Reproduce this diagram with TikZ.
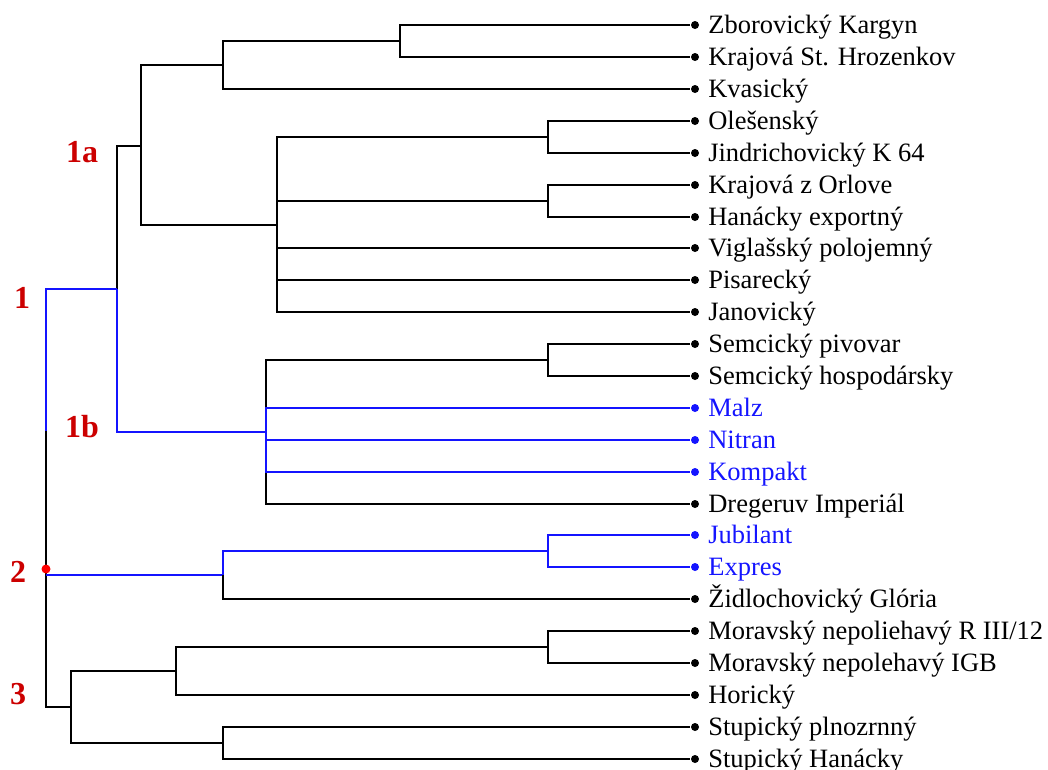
\documentclass[tikz,border=0pt]{standalone}
\usepackage{fontspec}
\setmainfont{Liberation Serif}
\definecolor{hiblue}{RGB}{20,20,255}
\definecolor{grpred}{RGB}{204,0,0}
\begin{document}
\begin{tikzpicture}[x=1pt,y=-1pt,line width=1.8pt,
    leaf/.style={circle,fill,inner sep=0pt,minimum size=8pt},
    cultivar/.style={inner sep=0pt,text height=17pt,text depth=0pt,label distance=7.5pt,font=\fontsize{26.5}{30}\selectfont},
    hi/.style={draw=hiblue},
    grp/.style={text=grpred,font=\bfseries\fontsize{32}{36}\selectfont}]
    \useasboundingbox (0,0) rectangle (1048,769);
    \node[leaf,label={[cultivar]right:Zborovický Kargyn}] (z1) at (695,25) {};
    \node[leaf,label={[cultivar]right:Krajová St. Hrozenkov}] (z2) at (695,57) {};
    \node[leaf,label={[cultivar]right:Kvasický}] (z3) at (695,89) {};
    \node[leaf,label={[cultivar]right:Olešenský}] (z4) at (695,121) {};
    \node[leaf,label={[cultivar]right:Jindrichovický K 64}] (z5) at (695,153) {};
    \node[leaf,label={[cultivar]right:Krajová z Orlove}] (z6) at (695,185) {};
    \node[leaf,label={[cultivar]right:Hanácky exportný}] (z7) at (695,217) {};
    \node[leaf,label={[cultivar]right:Viglašský polojemný}] (z8) at (695,248) {};
    \node[leaf,label={[cultivar]right:Pisarecký}] (z9) at (695,280) {};
    \node[leaf,label={[cultivar]right:Janovický}] (z10) at (695,312) {};
    \node[leaf,label={[cultivar]right:Semcický pivovar}] (z11) at (695,344) {};
    \node[leaf,label={[cultivar]right:Semcický hospodársky}] (z12) at (695,376) {};
    \node[leaf,hiblue,label={[cultivar,hiblue]right:Malz}] (z13) at (695,408) {};
    \node[leaf,hiblue,label={[cultivar,hiblue]right:Nitran}] (z14) at (695,440) {};
    \node[leaf,hiblue,label={[cultivar,hiblue]right:Kompakt}] (z15) at (695,472) {};
    \node[leaf,label={[cultivar]right:Dregeruv Imperiál}] (z16) at (695,504) {};
    \node[leaf,hiblue,label={[cultivar,hiblue]right:Jubilant}] (z17) at (695,535) {};
    \node[leaf,hiblue,label={[cultivar,hiblue]right:Expres}] (z18) at (695,567) {};
    \node[leaf,label={[cultivar]right:Židlochovický Glória}] (z19) at (695,599) {};
    \node[leaf,label={[cultivar]right:Moravský nepoliehavý R III/12}] (z20) at (695,631) {};
    \node[leaf,label={[cultivar]right:Moravský nepolehavý IGB}] (z21) at (695,663) {};
    \node[leaf,label={[cultivar]right:Horický}] (z22) at (695,695) {};
    \node[leaf,label={[cultivar]right:Stupický plnozrnný}] (z23) at (695,727) {};
    \node[leaf,label={[cultivar]right:Stupický Hanácky}] (z24) at (695,759) {};
    \coordinate (rb) at (46,431);
    \coordinate (r) at (46,575);
    \coordinate (c1) at (117,289);
    \coordinate (c1a) at (141,146);
    \coordinate (c1b) at (266,432);
    \coordinate (a1) at (223,65);
    \coordinate (kx) at (400,41);
    \coordinate (a2) at (277,225);
    \coordinate (ox) at (548,137);
    \coordinate (hx) at (548,201);
    \coordinate (sx) at (548,360);
    \coordinate (c2) at (223,575);
    \coordinate (jx) at (548,551);
    \coordinate (c3) at (71,707);
    \coordinate (m) at (176,671);
    \coordinate (mx) at (548,647);
    \coordinate (sp) at (223,743);
    \draw (kx) |- (z1);
    \draw (kx) |- (z2);
    \draw (a1) |- (kx);
    \draw (a1) |- (z3);
    \draw (ox) |- (z4);
    \draw (ox) |- (z5);
    \draw (hx) |- (z6);
    \draw (hx) |- (z7);
    \draw (a2) |- (ox);
    \draw (a2) |- (hx);
    \draw (a2) |- (z8);
    \draw (a2) |- (z9);
    \draw (a2) |- (z10);
    \draw (c1a) |- (a1);
    \draw (c1a) |- (a2);
    \draw (c1) |- (c1a);
    \draw (sx) |- (z11);
    \draw (sx) |- (z12);
    \draw (c1b) |- (sx);
    \draw (c1b) |- (z16);
    \draw[hi] (c1b) |- (z13);
    \draw[hi] (c1b) |- (z14);
    \draw[hi] (c1b) |- (z15);
    \draw[hi] (c1) |- (c1b);
    \draw[hi] (c1) -| (rb);
    \draw (rb) -- (r) |- (c3);
    \draw[hi] (r) -- (c2);
    \draw (c2) |- (z19);
    \draw[hi] (c2) |- (jx);
    \draw[hi] (jx) |- (z17);
    \draw[hi] (jx) |- (z18);
    \draw (c3) |- (m);
    \draw (c3) |- (sp);
    \draw (m) |- (mx);
    \draw (m) |- (z22);
    \draw (mx) |- (z20);
    \draw (mx) |- (z21);
    \draw (sp) |- (z23);
    \draw (sp) |- (z24);
    \node[circle,fill=red,inner sep=0pt,minimum size=9pt] (rdot) at (46,569) {};
    \node[grp] (g1) at (22,298) {1};
    \node[grp] (g1a) at (82,152) {1a};
    \node[grp] (g1b) at (82,427) {1b};
    \node[grp] (g2) at (18,572) {2};
    \node[grp] (g3) at (18,694) {3};
\end{tikzpicture}
\end{document}
